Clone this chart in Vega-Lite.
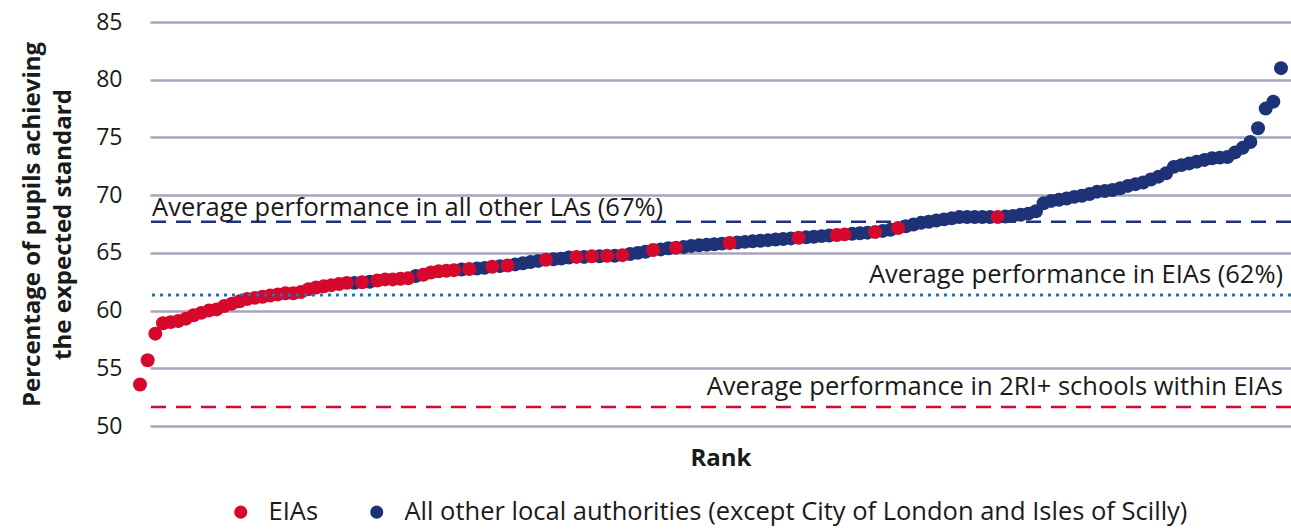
{
  "$schema": "https://vega.github.io/schema/vega-lite/v6.json",
  "width": 1141,
  "height": 404,
  "autosize": {"type": "none"},
  "padding": {"left": 150, "top": 22, "right": 0, "bottom": 103},
  "background": "white",
  "config": {
    "font": "Open Sans",
    "view": {"stroke": null},
    "axis": {"labelColor": "#1a1a1a", "titleColor": "#1a1a1a"}
  },
  "datasets": {
    "one": [{}]
  },
  "data": {
    "values": [
      {"rank": 1, "pct": 53.6, "group": "EIAs"},
      {"rank": 2, "pct": 55.7, "group": "EIAs"},
      {"rank": 3, "pct": 58.0, "group": "EIAs"},
      {"rank": 4, "pct": 58.9, "group": "EIAs"},
      {"rank": 5, "pct": 59.0, "group": "EIAs"},
      {"rank": 6, "pct": 59.1, "group": "EIAs"},
      {"rank": 7, "pct": 59.3, "group": "EIAs"},
      {"rank": 8, "pct": 59.6, "group": "EIAs"},
      {"rank": 9, "pct": 59.8, "group": "EIAs"},
      {"rank": 10, "pct": 60.0, "group": "EIAs"},
      {"rank": 11, "pct": 60.1, "group": "EIAs"},
      {"rank": 12, "pct": 60.4, "group": "EIAs"},
      {"rank": 13, "pct": 60.6, "group": "EIAs"},
      {"rank": 14, "pct": 60.8, "group": "EIAs"},
      {"rank": 15, "pct": 61.0, "group": "EIAs"},
      {"rank": 16, "pct": 61.1, "group": "EIAs"},
      {"rank": 17, "pct": 61.2, "group": "EIAs"},
      {"rank": 18, "pct": 61.3, "group": "EIAs"},
      {"rank": 19, "pct": 61.4, "group": "EIAs"},
      {"rank": 20, "pct": 61.5, "group": "EIAs"},
      {"rank": 21, "pct": 61.5, "group": "EIAs"},
      {"rank": 22, "pct": 61.6, "group": "EIAs"},
      {"rank": 23, "pct": 61.85, "group": "EIAs"},
      {"rank": 24, "pct": 62.0, "group": "EIAs"},
      {"rank": 25, "pct": 62.1, "group": "EIAs"},
      {"rank": 26, "pct": 62.2, "group": "EIAs"},
      {"rank": 27, "pct": 62.3, "group": "EIAs"},
      {"rank": 28, "pct": 62.4, "group": "EIAs"},
      {"rank": 29, "pct": 62.4, "group": "All other local authorities (except City of London and Isles of Scilly)"},
      {"rank": 30, "pct": 62.45, "group": "EIAs"},
      {"rank": 31, "pct": 62.5, "group": "All other local authorities (except City of London and Isles of Scilly)"},
      {"rank": 32, "pct": 62.6, "group": "EIAs"},
      {"rank": 33, "pct": 62.7, "group": "EIAs"},
      {"rank": 34, "pct": 62.7, "group": "EIAs"},
      {"rank": 35, "pct": 62.75, "group": "EIAs"},
      {"rank": 36, "pct": 62.8, "group": "EIAs"},
      {"rank": 37, "pct": 63.0, "group": "All other local authorities (except City of London and Isles of Scilly)"},
      {"rank": 38, "pct": 63.1, "group": "EIAs"},
      {"rank": 39, "pct": 63.3, "group": "EIAs"},
      {"rank": 40, "pct": 63.4, "group": "EIAs"},
      {"rank": 41, "pct": 63.45, "group": "EIAs"},
      {"rank": 42, "pct": 63.5, "group": "EIAs"},
      {"rank": 43, "pct": 63.55, "group": "All other local authorities (except City of London and Isles of Scilly)"},
      {"rank": 44, "pct": 63.6, "group": "EIAs"},
      {"rank": 45, "pct": 63.65, "group": "All other local authorities (except City of London and Isles of Scilly)"},
      {"rank": 46, "pct": 63.7, "group": "All other local authorities (except City of London and Isles of Scilly)"},
      {"rank": 47, "pct": 63.8, "group": "EIAs"},
      {"rank": 48, "pct": 63.85, "group": "All other local authorities (except City of London and Isles of Scilly)"},
      {"rank": 49, "pct": 63.9, "group": "EIAs"},
      {"rank": 50, "pct": 64.0, "group": "All other local authorities (except City of London and Isles of Scilly)"},
      {"rank": 51, "pct": 64.1, "group": "All other local authorities (except City of London and Isles of Scilly)"},
      {"rank": 52, "pct": 64.2, "group": "All other local authorities (except City of London and Isles of Scilly)"},
      {"rank": 53, "pct": 64.3, "group": "All other local authorities (except City of London and Isles of Scilly)"},
      {"rank": 54, "pct": 64.4, "group": "EIAs"},
      {"rank": 55, "pct": 64.45, "group": "All other local authorities (except City of London and Isles of Scilly)"},
      {"rank": 56, "pct": 64.5, "group": "All other local authorities (except City of London and Isles of Scilly)"},
      {"rank": 57, "pct": 64.6, "group": "All other local authorities (except City of London and Isles of Scilly)"},
      {"rank": 58, "pct": 64.65, "group": "EIAs"},
      {"rank": 59, "pct": 64.65, "group": "All other local authorities (except City of London and Isles of Scilly)"},
      {"rank": 60, "pct": 64.7, "group": "EIAs"},
      {"rank": 61, "pct": 64.7, "group": "All other local authorities (except City of London and Isles of Scilly)"},
      {"rank": 62, "pct": 64.75, "group": "EIAs"},
      {"rank": 63, "pct": 64.75, "group": "All other local authorities (except City of London and Isles of Scilly)"},
      {"rank": 64, "pct": 64.8, "group": "EIAs"},
      {"rank": 65, "pct": 64.9, "group": "All other local authorities (except City of London and Isles of Scilly)"},
      {"rank": 66, "pct": 65.0, "group": "All other local authorities (except City of London and Isles of Scilly)"},
      {"rank": 67, "pct": 65.1, "group": "All other local authorities (except City of London and Isles of Scilly)"},
      {"rank": 68, "pct": 65.25, "group": "EIAs"},
      {"rank": 69, "pct": 65.3, "group": "All other local authorities (except City of London and Isles of Scilly)"},
      {"rank": 70, "pct": 65.4, "group": "All other local authorities (except City of London and Isles of Scilly)"},
      {"rank": 71, "pct": 65.45, "group": "EIAs"},
      {"rank": 72, "pct": 65.5, "group": "All other local authorities (except City of London and Isles of Scilly)"},
      {"rank": 73, "pct": 65.6, "group": "All other local authorities (except City of London and Isles of Scilly)"},
      {"rank": 74, "pct": 65.65, "group": "All other local authorities (except City of London and Isles of Scilly)"},
      {"rank": 75, "pct": 65.7, "group": "All other local authorities (except City of London and Isles of Scilly)"},
      {"rank": 76, "pct": 65.75, "group": "All other local authorities (except City of London and Isles of Scilly)"},
      {"rank": 77, "pct": 65.8, "group": "All other local authorities (except City of London and Isles of Scilly)"},
      {"rank": 78, "pct": 65.85, "group": "EIAs"},
      {"rank": 79, "pct": 65.9, "group": "All other local authorities (except City of London and Isles of Scilly)"},
      {"rank": 80, "pct": 65.95, "group": "All other local authorities (except City of London and Isles of Scilly)"},
      {"rank": 81, "pct": 66.0, "group": "All other local authorities (except City of London and Isles of Scilly)"},
      {"rank": 82, "pct": 66.05, "group": "All other local authorities (except City of London and Isles of Scilly)"},
      {"rank": 83, "pct": 66.1, "group": "All other local authorities (except City of London and Isles of Scilly)"},
      {"rank": 84, "pct": 66.15, "group": "All other local authorities (except City of London and Isles of Scilly)"},
      {"rank": 85, "pct": 66.2, "group": "All other local authorities (except City of London and Isles of Scilly)"},
      {"rank": 86, "pct": 66.25, "group": "All other local authorities (except City of London and Isles of Scilly)"},
      {"rank": 87, "pct": 66.3, "group": "EIAs"},
      {"rank": 88, "pct": 66.35, "group": "All other local authorities (except City of London and Isles of Scilly)"},
      {"rank": 89, "pct": 66.4, "group": "All other local authorities (except City of London and Isles of Scilly)"},
      {"rank": 90, "pct": 66.45, "group": "All other local authorities (except City of London and Isles of Scilly)"},
      {"rank": 91, "pct": 66.5, "group": "All other local authorities (except City of London and Isles of Scilly)"},
      {"rank": 92, "pct": 66.55, "group": "EIAs"},
      {"rank": 93, "pct": 66.6, "group": "EIAs"},
      {"rank": 94, "pct": 66.65, "group": "All other local authorities (except City of London and Isles of Scilly)"},
      {"rank": 95, "pct": 66.7, "group": "All other local authorities (except City of London and Isles of Scilly)"},
      {"rank": 96, "pct": 66.75, "group": "All other local authorities (except City of London and Isles of Scilly)"},
      {"rank": 97, "pct": 66.8, "group": "EIAs"},
      {"rank": 98, "pct": 66.9, "group": "All other local authorities (except City of London and Isles of Scilly)"},
      {"rank": 99, "pct": 67.0, "group": "All other local authorities (except City of London and Isles of Scilly)"},
      {"rank": 100, "pct": 67.15, "group": "EIAs"},
      {"rank": 101, "pct": 67.3, "group": "All other local authorities (except City of London and Isles of Scilly)"},
      {"rank": 102, "pct": 67.45, "group": "All other local authorities (except City of London and Isles of Scilly)"},
      {"rank": 103, "pct": 67.6, "group": "All other local authorities (except City of London and Isles of Scilly)"},
      {"rank": 104, "pct": 67.7, "group": "All other local authorities (except City of London and Isles of Scilly)"},
      {"rank": 105, "pct": 67.8, "group": "All other local authorities (except City of London and Isles of Scilly)"},
      {"rank": 106, "pct": 67.9, "group": "All other local authorities (except City of London and Isles of Scilly)"},
      {"rank": 107, "pct": 68.0, "group": "All other local authorities (except City of London and Isles of Scilly)"},
      {"rank": 108, "pct": 68.1, "group": "All other local authorities (except City of London and Isles of Scilly)"},
      {"rank": 109, "pct": 68.1, "group": "All other local authorities (except City of London and Isles of Scilly)"},
      {"rank": 110, "pct": 68.1, "group": "All other local authorities (except City of London and Isles of Scilly)"},
      {"rank": 111, "pct": 68.1, "group": "All other local authorities (except City of London and Isles of Scilly)"},
      {"rank": 112, "pct": 68.1, "group": "All other local authorities (except City of London and Isles of Scilly)"},
      {"rank": 113, "pct": 68.1, "group": "EIAs"},
      {"rank": 114, "pct": 68.15, "group": "All other local authorities (except City of London and Isles of Scilly)"},
      {"rank": 115, "pct": 68.2, "group": "All other local authorities (except City of London and Isles of Scilly)"},
      {"rank": 116, "pct": 68.3, "group": "All other local authorities (except City of London and Isles of Scilly)"},
      {"rank": 117, "pct": 68.4, "group": "All other local authorities (except City of London and Isles of Scilly)"},
      {"rank": 118, "pct": 68.6, "group": "All other local authorities (except City of London and Isles of Scilly)"},
      {"rank": 119, "pct": 69.3, "group": "All other local authorities (except City of London and Isles of Scilly)"},
      {"rank": 120, "pct": 69.5, "group": "All other local authorities (except City of London and Isles of Scilly)"},
      {"rank": 121, "pct": 69.6, "group": "All other local authorities (except City of London and Isles of Scilly)"},
      {"rank": 122, "pct": 69.7, "group": "All other local authorities (except City of London and Isles of Scilly)"},
      {"rank": 123, "pct": 69.85, "group": "All other local authorities (except City of London and Isles of Scilly)"},
      {"rank": 124, "pct": 69.95, "group": "All other local authorities (except City of London and Isles of Scilly)"},
      {"rank": 125, "pct": 70.1, "group": "All other local authorities (except City of London and Isles of Scilly)"},
      {"rank": 126, "pct": 70.3, "group": "All other local authorities (except City of London and Isles of Scilly)"},
      {"rank": 127, "pct": 70.35, "group": "All other local authorities (except City of London and Isles of Scilly)"},
      {"rank": 128, "pct": 70.45, "group": "All other local authorities (except City of London and Isles of Scilly)"},
      {"rank": 129, "pct": 70.6, "group": "All other local authorities (except City of London and Isles of Scilly)"},
      {"rank": 130, "pct": 70.8, "group": "All other local authorities (except City of London and Isles of Scilly)"},
      {"rank": 131, "pct": 70.95, "group": "All other local authorities (except City of London and Isles of Scilly)"},
      {"rank": 132, "pct": 71.1, "group": "All other local authorities (except City of London and Isles of Scilly)"},
      {"rank": 133, "pct": 71.35, "group": "All other local authorities (except City of London and Isles of Scilly)"},
      {"rank": 134, "pct": 71.6, "group": "All other local authorities (except City of London and Isles of Scilly)"},
      {"rank": 135, "pct": 71.9, "group": "All other local authorities (except City of London and Isles of Scilly)"},
      {"rank": 136, "pct": 72.45, "group": "All other local authorities (except City of London and Isles of Scilly)"},
      {"rank": 137, "pct": 72.6, "group": "All other local authorities (except City of London and Isles of Scilly)"},
      {"rank": 138, "pct": 72.75, "group": "All other local authorities (except City of London and Isles of Scilly)"},
      {"rank": 139, "pct": 72.9, "group": "All other local authorities (except City of London and Isles of Scilly)"},
      {"rank": 140, "pct": 73.05, "group": "All other local authorities (except City of London and Isles of Scilly)"},
      {"rank": 141, "pct": 73.2, "group": "All other local authorities (except City of London and Isles of Scilly)"},
      {"rank": 142, "pct": 73.25, "group": "All other local authorities (except City of London and Isles of Scilly)"},
      {"rank": 143, "pct": 73.3, "group": "All other local authorities (except City of London and Isles of Scilly)"},
      {"rank": 144, "pct": 73.7, "group": "All other local authorities (except City of London and Isles of Scilly)"},
      {"rank": 145, "pct": 74.1, "group": "All other local authorities (except City of London and Isles of Scilly)"},
      {"rank": 146, "pct": 74.6, "group": "All other local authorities (except City of London and Isles of Scilly)"},
      {"rank": 147, "pct": 75.8, "group": "All other local authorities (except City of London and Isles of Scilly)"},
      {"rank": 148, "pct": 77.5, "group": "All other local authorities (except City of London and Isles of Scilly)"},
      {"rank": 149, "pct": 78.1, "group": "All other local authorities (except City of London and Isles of Scilly)"},
      {"rank": 150, "pct": 81.0, "group": "All other local authorities (except City of London and Isles of Scilly)"}
    ]
  },
  "layer": [
    {
      "mark": {"type": "point", "filled": true, "opacity": 1, "size": 195},
      "encoding": {
        "x": {
          "field": "rank",
          "type": "quantitative",
          "scale": {"domain": [2.306, 151.306], "nice": false, "zero": false},
          "axis": {"labels": false, "ticks": false, "domain": false, "grid": false, "title": "Rank", "titleFontSize": 24, "titleFontWeight": "bold", "titlePadding": 20}
        },
        "y": {
          "field": "pct",
          "type": "quantitative",
          "scale": {"domain": [50, 85], "nice": false, "zero": false},
          "axis": {
            "values": [50, 55, 60, 65, 70, 75, 80, 85],
            "domain": false, "ticks": false,
            "labelFontSize": 23, "labelPadding": 28,
            "grid": true, "gridColor": "#a8a4bb", "gridWidth": 2.5,
            "title": ["Percentage of pupils achieving", "the expected standard"],
            "titleFontSize": 24, "titleFontWeight": "bold", "titleLineHeight": 31, "titlePadding": 20
          }
        },
        "color": {
          "field": "group",
          "type": "nominal",
          "scale": {
            "domain": ["EIAs", "All other local authorities (except City of London and Isles of Scilly)"],
            "range": ["#d6082b", "#1e3278"]
          },
          "legend": {
            "title": null, "orient": "none", "direction": "horizontal",
            "legendX": 78, "legendY": 477, "padding": 0,
            "symbolType": "circle", "symbolSize": 170, "symbolOpacity": 1,
            "labelFontSize": 25.5, "labelLimit": 1000, "labelOffset": 15, "columnPadding": 45,
            "labelColor": "#1a1a1a"
          }
        },
        "order": {"field": "group", "sort": "ascending"}
      }
    },
    {
      "data": {"name": "one"},
      "mark": {"type": "rule", "color": "#1e3278", "strokeWidth": 2.5, "strokeDash": [15, 10]},
      "encoding": {"y": {"datum": 67.7}}
    },
    {
      "data": {"name": "one"},
      "mark": {"type": "rule", "color": "#1b75bc", "strokeWidth": 3, "strokeDash": [3, 5]},
      "encoding": {"y": {"datum": 61.35}}
    },
    {
      "data": {"name": "one"},
      "mark": {"type": "rule", "color": "#d6082b", "strokeWidth": 2.5, "strokeDash": [15, 10]},
      "encoding": {"y": {"datum": 51.65}}
    },
    {
      "data": {"name": "one"},
      "mark": {"type": "text", "align": "left", "baseline": "alphabetic", "fontSize": 25.5, "fontWeight": "normal", "fill": "#1a1a1a"},
      "encoding": {"x": {"datum": 2.57}, "y": {"datum": 68.2}, "text": {"value": "Average performance in all other LAs (67%)"}}
    },
    {
      "data": {"name": "one"},
      "mark": {"type": "text", "align": "right", "baseline": "alphabetic", "fontSize": 25.5, "fontWeight": "normal", "fill": "#1a1a1a"},
      "encoding": {"x": {"datum": 150.26}, "y": {"datum": 62.4}, "text": {"value": "Average performance in EIAs (62%)"}}
    },
    {
      "data": {"name": "one"},
      "mark": {"type": "text", "align": "right", "baseline": "alphabetic", "fontSize": 25.5, "fontWeight": "normal", "fill": "#1a1a1a"},
      "encoding": {"x": {"datum": 150.26}, "y": {"datum": 52.7}, "text": {"value": "Average performance in 2RI+ schools within EIAs"}}
    }
  ]
}
